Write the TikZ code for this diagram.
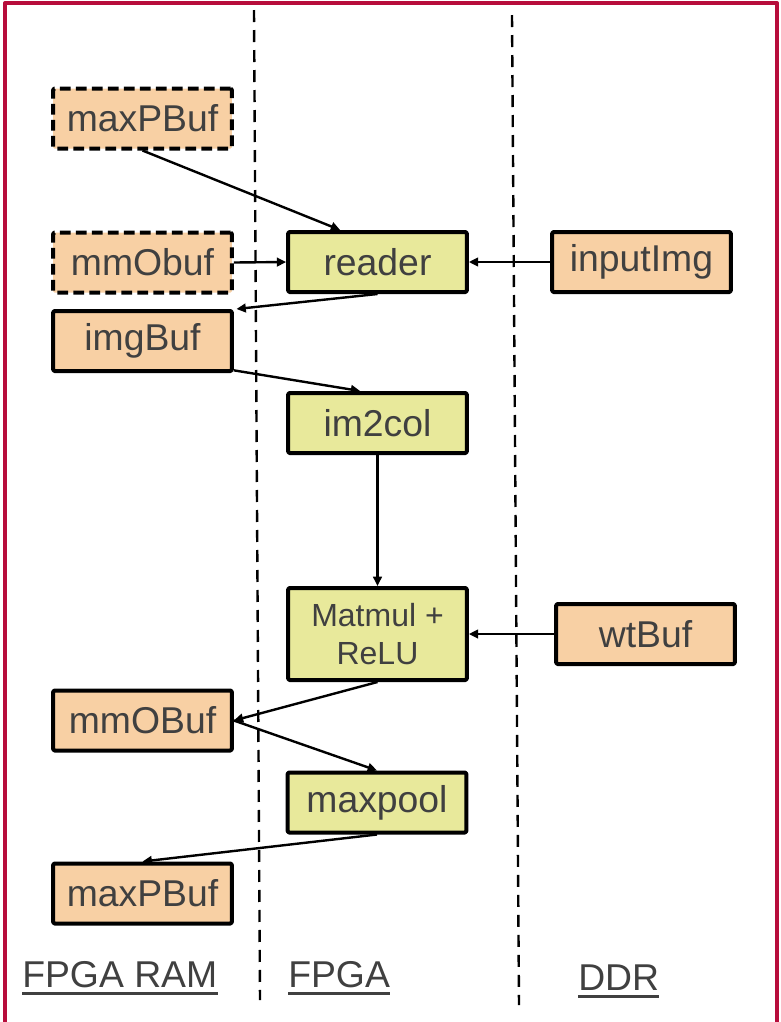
\documentclass[tikz,border=0pt]{standalone}
\usepackage{fontspec}
\setmainfont{Liberation Sans}
\usetikzlibrary{arrows.meta}

\definecolor{frame}{HTML}{B70D3B}
\definecolor{ramfill}{HTML}{F8D0A4}
\definecolor{fpgafill}{HTML}{E8E99B}
\definecolor{txt}{HTML}{404040}

\begin{document}
\begin{tikzpicture}[x=0.75pt, y=-0.75pt, line join=round, >={Triangle[length=7pt,width=6.5pt]},
	box/.style={draw=black, line width=3pt, rounded corners=1pt, minimum width=134pt, minimum height=45pt,
		inner sep=2pt, text=txt, font=\fontsize{28}{30}\selectfont},
	ram/.style={box, fill=ramfill},
	fpga/.style={box, fill=fpgafill},
	spare/.style={dash pattern=on 8pt off 4pt},
	flow/.style={->, line width=1.8pt},
	lane/.style={line width=1.8pt, dash pattern=on 9pt off 6pt},
	lbl/.style={anchor=base west, inner sep=0pt, text=txt, font=\fontsize{28}{30}\selectfont}]
	\useasboundingbox (0,0) rectangle (781,1022);
	
	% outer frame, open at the bottom
	\draw[frame, line width=3pt] (5,1040) -- (5,3) -- (777,3) -- (777,1040);
	
	% lane separators
	\draw[lane] (254,10) -- (260,1000);
	\draw[lane] (512,15) -- (519,1005);
	
	% buffers in FPGA RAM
	\node[ram, spare] (maxPBufA) at (142.5,118.5) {maxPBuf};
	\node[ram, spare] (mmObufA) at (142.5,262.5) {mmObuf};
	\node[ram] (imgBuf) at (142.5,341) {imgBuf};
	\node[ram] (mmOBuf) at (142.5,720.5) {mmOBuf};
	\node[ram] (maxPBufB) at (142.5,893.5) {maxPBuf};
	
	% FPGA stages
	\node[fpga] (reader) at (377.5,262) {reader};
	\node[fpga] (im2col) at (377.5,423) {im2col};
	\node[fpga, minimum height=69pt, align=center, font=\fontsize{24}{28}\selectfont] (matmul) at (377.5,634) {Matmul +\\ReLU};
	\node[fpga] (maxpool) at (377,802.5) {maxpool};
	
	% DDR buffers
	\node[ram] (inputImg) at (641.5,262) {inputImg};
	\node[ram] (wtBuf) at (645.5,634) {wtBuf};
	
	% data flow
	\draw[flow] (maxPBufA.south) -- ([xshift=-28pt]reader.north);
	\draw[flow] (mmObufA.east) -- (reader.west);
	\draw[flow] (inputImg.west) -- (reader.east);
	\draw[flow] (reader.south) -- ([xshift=2pt]imgBuf.north east);
	\draw[flow] ([yshift=2pt]imgBuf.south east) -- ([xshift=-13pt]im2col.north);
	\draw[flow] (im2col.south) -- (matmul.north);
	\draw[flow] (wtBuf.west) -- (matmul.east);
	\draw[flow] (matmul.south) -- (mmOBuf.east);
	\draw[flow] (mmOBuf.east) -- (maxpool.north);
	\draw[flow] (maxpool.south) -- (maxPBufB.north);
	
	% lane names
	\node[lbl] (ramLbl) at (22,987) {FPGA RAM};
	\node[lbl] (fpgaLbl) at (288,987) {FPGA};
	\node[lbl] (ddrLbl) at (578,990) {DDR};
	\foreach \n in {ramLbl, fpgaLbl, ddrLbl}
		\draw[txt, line width=2pt] ([yshift=-4.5pt]\n.south west) -- ([yshift=-4.5pt]\n.south east);
\end{tikzpicture}
\end{document}
